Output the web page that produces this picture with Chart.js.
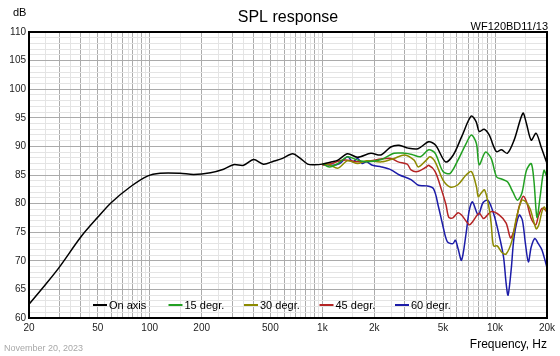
<!DOCTYPE html>
<html><head><meta charset="utf-8">
<script src="https://cdn.jsdelivr.net/npm/chart.js@4.4.0/dist/chart.umd.min.js"></script>
<style>html,body{margin:0;padding:0;background:#fff;}#wrap{position:relative;width:560px;height:356px;}</style>
</head><body><div id="wrap"><canvas id="c" width="560" height="356"></canvas></div>
<script>
// ---- data ----
const freqOn=[20,25,30,40,50,60,77,97,115,150,180,225,268,306,350,400,456,521,588,672,746,822,900,1000,1140,1230,1400,1600,1910,2180,2490,2780,3140,3580,4130,4530,5170,5730,6410,7280,7780,8100,8650,9250,10170,10900,11800,12900,14500,15200,16200,17300,18500,20000];
const splOn=[62.4,65.9,68.9,74.2,77.6,80.2,82.9,84.8,85.3,85.3,85.1,85.4,86.0,86.8,86.7,87.7,86.9,87.4,87.9,88.7,87.9,86.9,86.8,86.9,87.3,87.6,88.7,88.1,88.8,88.5,89.9,90.2,89.7,89.6,90.8,90.2,87.3,88.5,91.7,95.3,94.3,92.6,93.0,92.0,89.1,89.4,88.8,91.1,95.8,94.0,91.1,92.3,89.9,87.0];

const freq15=[1000,1100,1230,1400,1600,1800,2200,2600,3000,3300,3700,4130,4500,5000,5500,6100,6800,7300,7800,8100,8800,9500,10200,10900,11800,12700,13500,14300,15200,16200,16800,17500,18300,19200,20000];
const spl15=[87.0,86.4,87.0,88.2,87.6,87.3,87.7,88.8,88.8,88.6,88.2,89.4,88.8,85.6,85.3,87.6,90.5,92.0,90.5,86.8,89.0,87.9,84.7,84.3,83.8,82.0,80.6,81.8,85.8,87.0,84.0,77.6,81.5,85.8,84.6];

const freq30=[1000,1100,1230,1400,1600,1800,2200,2600,3000,3400,3600,4000,4200,4500,5000,5500,6100,6800,7300,7800,8000,8300,8700,9200,9500,9800,10300,11000,11600,12500,13300,14300,15100,16000,17300,17900,18700,19300,20000];
const spl30=[87.0,86.8,86.2,87.5,87.0,87.5,87.3,87.9,88.5,87.6,86.4,87.6,88.2,87.3,84.1,82.9,83.3,85.0,85.6,83.0,81.2,81.8,82.4,79.5,76.5,72.6,72.6,71.4,71.2,73.4,77.5,80.6,80.3,79.0,75.6,76.2,78.6,79.4,78.4];

const freq45=[1000,1140,1260,1400,1600,1910,2180,2500,2750,3100,3260,3550,4000,4130,4500,4900,5200,5400,5700,6100,6400,7100,7400,8100,8600,9500,10600,11600,12300,12900,13800,14600,15300,16200,17200,17900,18800,20000];
const spl45=[86.7,87.0,87.5,87.6,87.3,87.5,87.8,87.9,87.3,86.9,85.9,85.6,86.4,86.7,85.6,82.4,79.8,77.6,77.5,78.4,78.0,76.3,76.8,78.3,77.4,78.6,78.0,76.6,74.0,75.4,79.5,81.3,80.1,77.4,76.3,78.0,79.2,78.6];

const freq60=[1000,1140,1260,1400,1500,1600,1700,1800,1950,2200,2500,2800,3260,3600,4000,4400,4700,5000,5300,5700,5900,6100,6400,6800,7100,7400,8000,8500,9100,9800,10500,11200,11600,11900,12400,12900,13800,14400,15000,15600,16200,17000,17800,18700,20000];
const spl60=[86.9,86.7,87.0,88.2,87.3,87.9,87.0,87.3,86.7,86.4,85.9,85.0,84.2,83.2,83.1,82.6,79.5,76.0,73.3,73.0,73.6,72.2,70.1,74.8,78.9,80.3,78.0,80.1,80.6,78.3,74.8,70.7,66.0,64.0,68.4,74.2,78.0,77.1,73.0,69.8,72.4,73.9,73.0,71.9,68.8];

const seriesLabels=['On axis','15 degr.','30 degr.','45 degr.','60 degr.'];
const seriesColors=['#000000','#22a022','#8c8a00','#b42424','#1c1ca8'];
const xTickValues=[20,50,100,200,500,1000,2000,5000,10000,20000];
const xTickLabels=['20','50','100','200','500','1k','2k','5k','10k','20k'];
const yMin=60, yMax=110;

// grid frequencies (1, 1.5, 2, ... 9.5 per decade)
const gridFreqs=[];
[10,100,1000,10000].forEach(d=>{for(let m=1;m<10;m+=0.5){const v=Math.round(m*d*100)/100;if(v>=20&&v<=20000)gridFreqs.push(v);}});
if(!gridFreqs.includes(20000))gridFreqs.push(20000);

const toXY=(fs,vs)=>fs.map((f,i)=>({x:f,y:vs[i]}));
const allF=[freqOn,freq15,freq30,freq45,freq60];
const allS=[splOn,spl15,spl30,spl45,spl60];

const FONT='"Liberation Sans", Arial, sans-serif';

const framePlugin={id:'frame',afterDatasetsDraw(chart){const {ctx,chartArea:a}=chart;ctx.save();ctx.strokeStyle='#000';ctx.lineWidth=2;ctx.strokeRect(a.left,a.top,a.right-a.left,a.bottom-a.top);ctx.restore();}};

const legendPlugin={id:'inlegend',afterDraw(chart){const {ctx,chartArea:a}=chart;ctx.save();ctx.font='11px '+FONT;ctx.textBaseline='middle';ctx.textAlign='left';
 const y=a.bottom-13;let x=a.left+64;
 chart.data.datasets.forEach(ds=>{ctx.strokeStyle=ds.borderColor;ctx.lineWidth=2;ctx.beginPath();ctx.moveTo(x,y);ctx.lineTo(x+14,y);ctx.stroke();ctx.fillStyle='#000';ctx.fillText(ds.label,x+16,y+0.5);x+=75.5;});
 ctx.restore();}};

const textPlugin={id:'texts',afterDraw(chart){const {ctx,chartArea:a}=chart;ctx.save();ctx.fillStyle='#000';ctx.textBaseline='middle';
 ctx.font='16px '+FONT;ctx.textAlign='center';ctx.fillText('SPL response',(a.left+a.right)/2+0,18);
 ctx.font='11px '+FONT;ctx.textAlign='left';ctx.fillText('dB',13,13);
 ctx.font='11px '+FONT;ctx.textAlign='right';ctx.fillText('WF120BD11/13',a.right+1,27);
 ctx.font='12px '+FONT;ctx.textAlign='right';ctx.fillText('Frequency, Hz',a.right,345);
 ctx.font='9px '+FONT;ctx.textAlign='left';ctx.fillStyle='#a8a8a8';ctx.fillText('November 20, 2023',4,349);
 ctx.restore();}};

new Chart(document.getElementById('c'),{
 type:'line',
 data:{datasets:allF.map((f,i)=>({label:seriesLabels[i],data:toXY(f,allS[i]),borderColor:seriesColors[i],backgroundColor:seriesColors[i],borderWidth:1.5,pointRadius:0,tension:0.3,fill:false}))},
 options:{responsive:false,animation:false,devicePixelRatio:1,
  layout:{padding:{top:32,right:13,left:0,bottom:0}},
  plugins:{legend:{display:false},tooltip:{enabled:false},title:{display:false}},
  scales:{
   x:{type:'logarithmic',min:20,max:20000,
    afterBuildTicks:s=>{s.ticks=gridFreqs.map(v=>({value:v}));},
    afterFit:s=>{s.height=38;},
    grid:{drawTicks:false,color:c=>{const v=c.tick?c.tick.value:0;const d=Math.pow(10,Math.floor(Math.log10(v)+1e-9));const m=v/d;return Math.abs(m-Math.round(m))<1e-6?'#ababab':'#e4e4e4';},lineWidth:1},
    border:{display:false},
    ticks:{autoSkip:false,maxRotation:0,padding:4,color:'#222',font:{size:10,family:FONT},
     callback:v=>{const i=xTickValues.indexOf(Math.round(v));return i>=0?xTickLabels[i]:'';}}},
   y:{type:'linear',min:yMin,max:yMax,
    afterFit:s=>{s.width=29;},
    grid:{drawTicks:false,color:c=>{const v=c.tick?c.tick.value:0;return v%5===0?'#ababab':'#e4e4e4';},lineWidth:1},
    border:{display:false},
    ticks:{stepSize:1,autoSkip:false,padding:3,color:'#222',font:{size:10,family:FONT},callback:v=>v%5===0?String(v):''}}
  }},
 plugins:[framePlugin,legendPlugin,textPlugin]
});
</script></body></html>
